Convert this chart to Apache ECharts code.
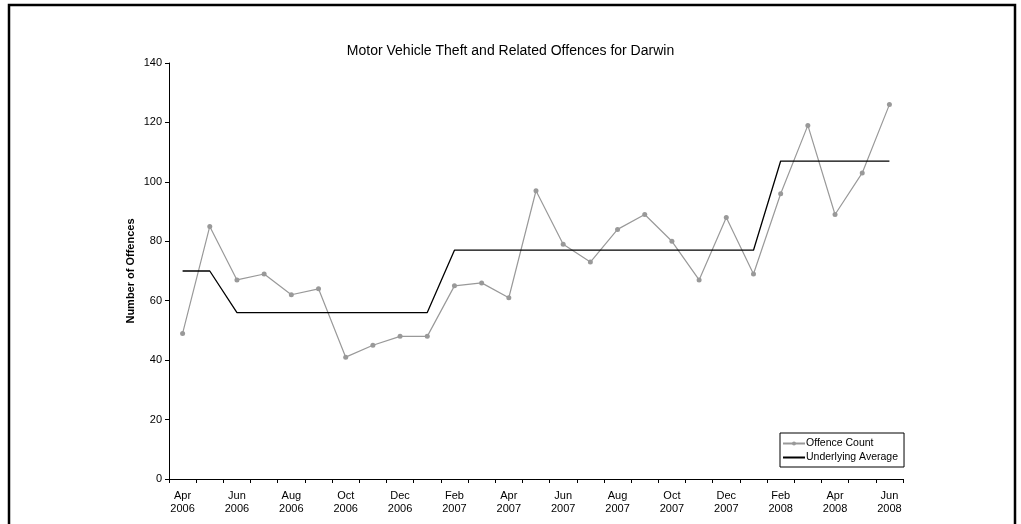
<!DOCTYPE html>
<html>
<head>
<meta charset="utf-8">
<script src="https://cdn.jsdelivr.net/npm/echarts@6/dist/echarts.min.js"></script>
<style>
html,body{margin:0;padding:0;background:#fff;}
#chart{width:1021px;height:524px;}
</style>
</head>
<body>
<div id="chart"></div>
<script>
const categories = ["Apr\n2006","May\n2006","Jun\n2006","Jul\n2006","Aug\n2006","Sep\n2006","Oct\n2006","Nov\n2006","Dec\n2006",
  "Jan\n2007","Feb\n2007","Mar\n2007","Apr\n2007","May\n2007","Jun\n2007","Jul\n2007","Aug\n2007","Sep\n2007","Oct\n2007","Nov\n2007","Dec\n2007",
  "Jan\n2008","Feb\n2008","Mar\n2008","Apr\n2008","May\n2008","Jun\n2008"];
const offenceCount = [49,85,67,69,62,64,41,45,48,48,65,66,61,97,79,73,84,89,80,67,88,69,96,119,89,103,126];
const underlyingAverage = [70,70,56,56,56,56,56,56,56,56,77,77,77,77,77,77,77,77,77,77,77,77,107,107,107,107,107];
const yTicks = {min:0, max:140, interval:20};
const titleText = "Motor Vehicle Theft and Related Offences for Darwin";
const yAxisTitle = "Number of Offences";

const chart = echarts.init(document.getElementById('chart'), null, {renderer:'canvas'});
chart.setOption({
  animation:false,
  backgroundColor:'#fff',
  textStyle:{fontFamily:'Liberation Sans, Arial, sans-serif'},
  title:{
    text:titleText, left:'center', top:39,
    textStyle:{fontSize:14, fontWeight:'normal', color:'#000', fontFamily:'Liberation Sans, Arial, sans-serif'}
  },
  graphic:[{
    type:'rect', silent:true,
    shape:{x:9, y:5, width:1006, height:540},
    style:{fill:'none', stroke:'#000', lineWidth:2.5}
  }],
  grid:{left:169, right:118, top:63, bottom:45, containLabel:false},
  legend:{
    orient:'vertical', left:780, top:433,
    borderColor:'#000', borderWidth:1, padding:[5,6,4,2],
    itemGap:3, itemWidth:22, itemHeight:5,
    textStyle:{fontSize:10.5, color:'#000', padding:[0,0,0,-4]},
    data:[
      {name:'Offence Count'},
      {name:'Underlying Average', itemStyle:{opacity:0}}
    ]
  },
  xAxis:{
    type:'category', data:categories, boundaryGap:true,
    axisLine:{lineStyle:{color:'#000', width:1}},
    axisTick:{show:true, interval:0, length:4, lineStyle:{color:'#000'}},
    axisLabel:{interval:1, fontSize:11, color:'#000', lineHeight:12.5, margin:11}
  },
  yAxis:{
    type:'value', min:yTicks.min, max:yTicks.max, interval:yTicks.interval,
    name:yAxisTitle, nameLocation:'middle', nameRotate:90, nameGap:33,
    nameMoveOverlap:false,
    nameTextStyle:{fontSize:11, fontWeight:'bold', color:'#000'},
    axisLine:{show:true, lineStyle:{color:'#000', width:1}},
    axisTick:{show:true, length:4, lineStyle:{color:'#000'}},
    axisLabel:{fontSize:11, color:'#000', margin:7},
    splitLine:{show:false}
  },
  series:[
    {
      name:'Offence Count', type:'line', data:offenceCount,
      symbol:'circle', symbolSize:5,
      lineStyle:{color:'#999', width:1.2},
      itemStyle:{color:'#999'}
    },
    {
      name:'Underlying Average', type:'line', data:underlyingAverage,
      symbol:'none',
      lineStyle:{color:'#000', width:1.3},
      itemStyle:{color:'#000'}
    }
  ]
});
</script>
</body>
</html>
